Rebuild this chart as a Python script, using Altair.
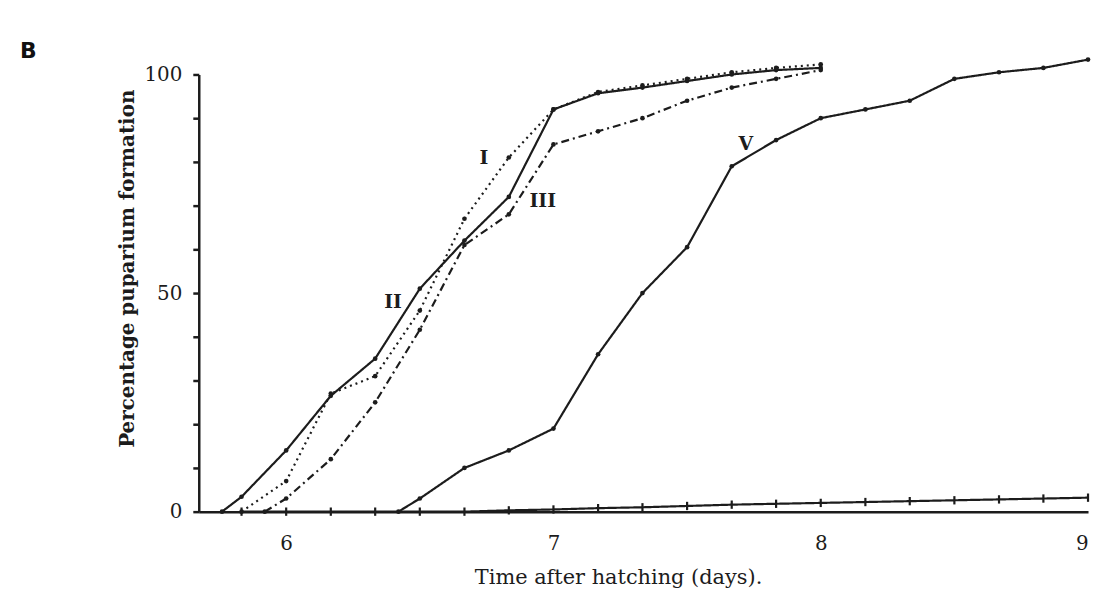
import altair as alt
import pandas as pd

# ---- data ----
series_names = ["I", "II", "III", "IV", "V"]

I_x = [5.833, 6.0, 6.167, 6.333, 6.5, 6.667, 6.833, 7.0, 7.167, 7.333, 7.5, 7.667, 7.833, 8.0]
I_y = [0, 7, 27, 31, 46, 67, 81, 92, 96, 97.5, 99, 100.5, 101.5, 102.3]

II_x = [5.76, 5.833, 6.0, 6.167, 6.333, 6.5, 6.667, 6.833, 7.0, 7.167, 7.333, 7.5, 7.667, 7.833, 8.0]
II_y = [0, 3.4, 14, 26.5, 35, 51, 62, 72, 92, 95.7, 97, 98.5, 100, 101, 101.5]

III_x = [5.92, 6.0, 6.167, 6.333, 6.5, 6.667, 6.833, 7.0, 7.167, 7.333, 7.5, 7.667, 7.833, 8.0]
III_y = [0, 3, 12, 25, 41.6, 61, 68, 84, 87, 90, 94, 97, 99, 101]

IV_x = [5.833, 6.0, 6.167, 6.333, 6.5, 6.667, 6.833, 7.0, 7.167, 7.333, 7.5, 7.667,
        7.833, 8.0, 8.167, 8.333, 8.5, 8.667, 8.833, 9.0]
IV_y = [0, 0, 0, 0, 0, 0, 0.3, 0.5, 0.8, 1.0, 1.3, 1.6, 1.8, 2.0, 2.2, 2.4, 2.6, 2.8, 3.0, 3.2]

V_x = [6.42, 6.5, 6.667, 6.833, 7.0, 7.167, 7.333, 7.5, 7.667, 7.833, 8.0, 8.167, 8.333,
       8.5, 8.667, 8.833, 9.0]
V_y = [0, 3, 10, 14, 19, 36, 50, 60.5, 79, 85, 90, 92, 94, 99, 100.5, 101.5, 103.4]

label_text = ["I", "II", "III", "V"]
label_x = [6.74, 6.40, 6.96, 7.72]
label_y = [81, 48, 71, 84]

x_ticks = [6, 7, 8, 9]
y_ticks = [0, 10, 20, 30, 40, 50, 60, 70, 80, 90, 100]

rows = []
for name, xs, ys in [("I", I_x, I_y), ("II", II_x, II_y), ("III", III_x, III_y),
                     ("IV", IV_x, IV_y), ("V", V_x, V_y)]:
    for xv, yv in zip(xs, ys):
        rows.append({"series": name, "t": xv, "p": yv})
df = pd.DataFrame(rows)
labels_df = pd.DataFrame({"text": label_text, "t": label_x, "p": label_y})

INK = "#1c1c1c"
SERIF = "DejaVu Serif"

x_scale = alt.Scale(domain=[5.673, 9.0], nice=False, zero=False)
y_scale = alt.Scale(domain=[0, 100], nice=False)

x_enc = alt.X("t:Q", scale=x_scale,
              axis=alt.Axis(values=x_ticks, format="d", title="Time after hatching (days).",
                            tickSize=0, labelPadding=22, labelFontSize=20,
                            labelFont=SERIF, labelColor=INK,
                            titleFont=SERIF, titleFontSize=21, titleFontWeight="normal",
                            titleColor=INK, titleX=422, titleY=66,
                            titleBaseline="middle", titleAlign="center",
                            domainColor=INK, domainWidth=2.5, grid=False))
y_enc = alt.Y("p:Q", scale=y_scale,
              axis=alt.Axis(values=y_ticks,
                            labelExpr="datum.value % 50 == 0 ? datum.label : ''",
                            title="Percentage puparium formation",
                            tickSize=6, tickWidth=2.5, tickColor=INK,
                            labelPadding=11, labelFontSize=20,
                            labelFont=SERIF, labelColor=INK,
                            titleFont=SERIF, titleFontSize=20, titleFontWeight="bold",
                            titleColor=INK, titleX=-72, titleY=195,
                            titleBaseline="middle", titleAngle=270,
                            domainColor=INK, domainWidth=2.5, grid=False))

base = alt.Chart(df)

lines = base.mark_line(color=INK, strokeWidth=2.2).encode(
    x=x_enc, y=y_enc,
    detail="series:N",
    strokeDash=alt.StrokeDash("series:N",
                              scale=alt.Scale(domain=series_names,
                                              range=[[2, 4], [1, 0], [8, 4, 2, 4], [1, 0], [1, 0]]),
                              legend=None),
)

dots = base.transform_filter("datum.series != 'IV'").mark_point(
    filled=True, color=INK, size=22, opacity=1).encode(x="t:Q", y="p:Q")

ticks = base.transform_filter("datum.series == 'IV'").mark_point(
    shape="stroke", angle=90, color=INK, size=70, strokeWidth=2.2, opacity=1).encode(
    x="t:Q", y="p:Q")

labels = alt.Chart(labels_df).mark_text(
    font=SERIF, fontSize=19, fontWeight="bold", color=INK).encode(
    x="t:Q", y="p:Q", text="text:N")

chart = alt.layer(lines, dots, ticks, labels).properties(
    width=895, height=440,
    title=alt.TitleParams("B", anchor="start", frame="group", font="DejaVu Sans",
                          fontSize=22, fontWeight="bold", color="#111",
                          dx=-180, dy=12, offset=4),
    autosize=alt.AutoSizeParams(type="none"),
    padding={"left": 192, "top": 65, "right": 4, "bottom": 85},
    background="white",
).configure_view(strokeWidth=0)

chart.save("out.html", embed_options={"renderer": "svg", "actions": False})
